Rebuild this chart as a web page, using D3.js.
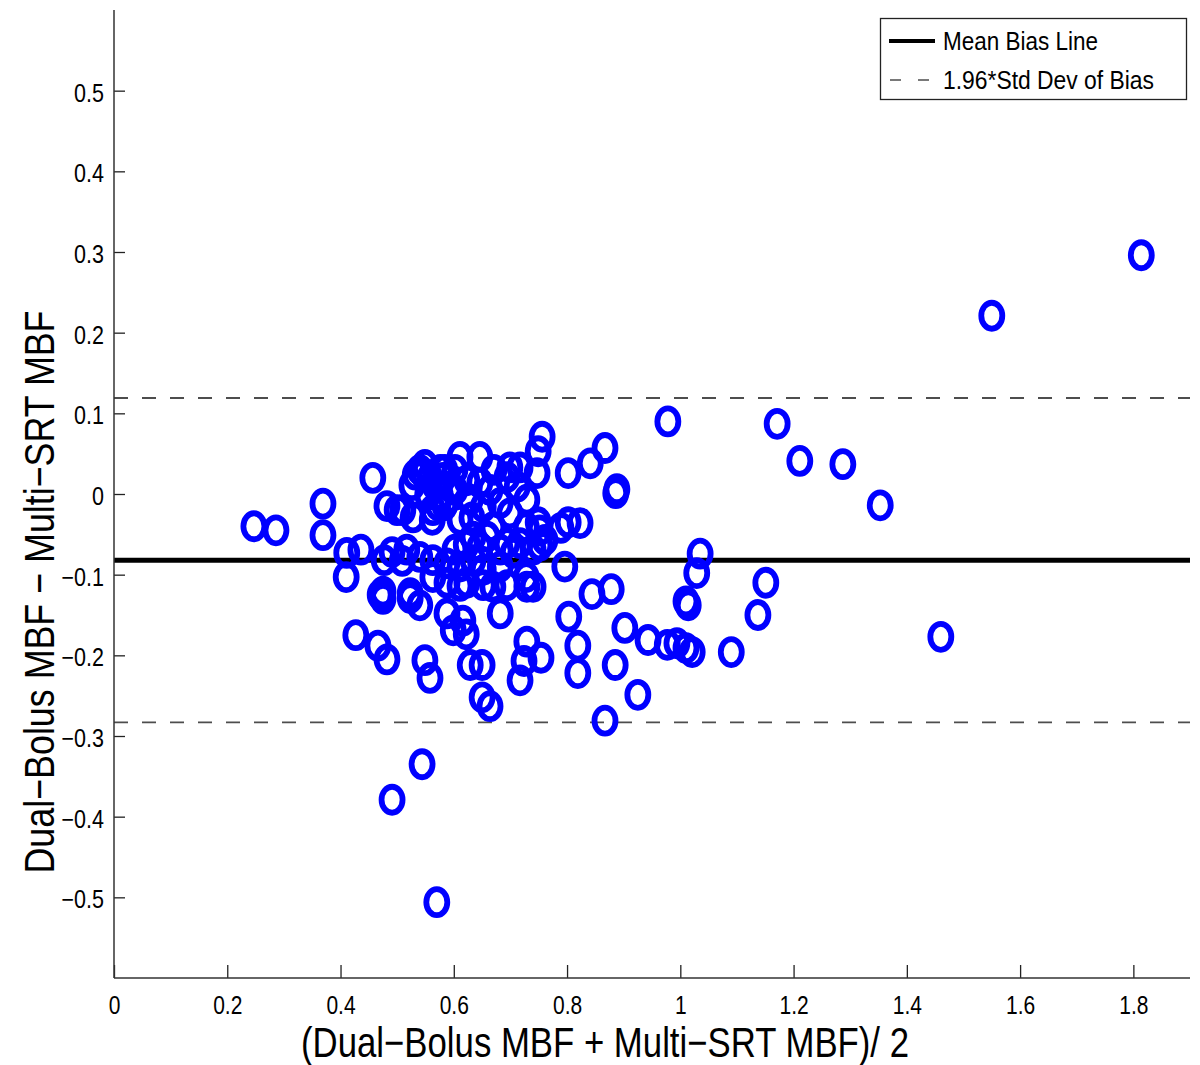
<!DOCTYPE html>
<html><head><meta charset="utf-8">
<script src="https://cdn.jsdelivr.net/npm/d3@7"></script>
<style>
body{margin:0;background:#fff;}
text{font-family:"Liberation Sans",Arial,sans-serif;}
</style></head>
<body><svg id="c" width="1200" height="1065"></svg>
<script>
const meanVals = [1.814,1.550,0.978,1.171,1.211,1.287,1.353,1.460,1.151,1.137,1.090,1.035,1.029,1.010,1.014,1.021,1.010,0.994,0.977,0.943,
0.925,0.902,0.885,0.867,0.878,0.844,0.888,0.886,0.867,0.841,0.802,0.823,0.802,0.789,0.796,0.803,0.819,0.819,0.756,0.749,
0.747,0.754,0.729,0.724,0.717,0.664,0.650,0.629,0.650,0.570,0.544,0.491,0.247,0.286,0.369,0.369,0.457,0.427,0.466,0.482,
0.549,0.558,0.410,0.411,0.436,0.470,0.475,0.523,0.540,0.588,0.599,0.622,0.616,0.682,0.611,0.652,0.694,0.729,0.752,0.752,
0.740,0.728,0.740,0.611,0.646,0.699,0.694,0.540,0.547,0.558,0.581,0.623,0.646,0.712,0.729,0.682,0.652,0.593,0.563,0.510,
0.528,0.669,0.699,0.728,0.717,0.694,0.659,0.634,0.646,0.682,0.705,0.517,0.540,0.563,0.588,0.611,0.634,0.652,0.682,0.669,
0.623,0.588,0.563,0.523,0.482,0.500,0.477,0.491,0.509,0.576,0.584,0.602,0.629,0.664,0.717,0.562,0.475,0.611,0.632,0.671,
0.576,0.622,0.602,0.749,0.761,0.532,0.549,0.567,0.584,0.602,0.526,0.572,0.554];
const diffVals = [0.296,0.221,0.090,0.087,0.041,0.037,-0.014,-0.177,-0.110,-0.150,-0.196,-0.074,-0.098,-0.133,-0.138,-0.196,-0.191,-0.185,-0.187,-0.181,
-0.249,-0.166,-0.212,-0.281,-0.118,-0.124,0.006,0.001,0.057,0.038,0.026,-0.036,-0.035,-0.042,-0.090,-0.152,-0.188,-0.222,0.071,0.053,
0.026,-0.203,-0.183,-0.207,-0.231,-0.263,-0.252,-0.212,-0.212,-0.506,-0.335,-0.379,-0.040,-0.045,-0.012,-0.051,0.020,-0.175,-0.188,-0.205,
-0.206,-0.228,-0.103,-0.073,-0.069,-0.125,-0.130,-0.129,-0.138,-0.148,-0.169,-0.174,-0.157,-0.148,-0.114,-0.113,-0.113,-0.115,-0.064,-0.045,
-0.069,-0.103,-0.115,0.046,0.046,0.033,0.021,0.030,0.025,0.020,0.020,0.017,0.014,0.009,-0.007,-0.011,-0.016,0.009,-0.020,-0.020,
-0.029,-0.041,-0.024,-0.041,-0.061,-0.061,-0.053,-0.053,-0.066,-0.069,-0.073,-0.069,-0.078,-0.082,-0.086,-0.090,-0.082,-0.094,-0.090,-0.115,
-0.110,-0.110,-0.103,-0.123,-0.015,-0.020,-0.082,-0.072,-0.083,-0.001,-0.014,0.030,-0.007,0.005,0.033,-0.032,-0.121,-0.032,-0.029,0.030,
0.030,-0.063,-0.069,-0.035,-0.057,0.024,0.036,0.011,0.030,0.005,0.011,-0.014,-0.001];
const meanBias = -0.082;
const limits = [0.119, -0.283];
const xTicks = [0,0.2,0.4,0.6,0.8,1,1.2,1.4,1.6,1.8];
const yTicks = [-0.5,-0.4,-0.3,-0.2,-0.1,0,0.1,0.2,0.3,0.4,0.5];
const legendItems = ["Mean Bias Line","1.96*Std Dev of Bias"];

const svg = d3.select("#c");
const L=114, R=1190, T=10, B=978;
const x = d3.scaleLinear().domain([0,1.9]).range([L,R]);
const y = d3.scaleLinear().domain([-0.6,0.6]).range([B,T]);

function condense(sel, f){
  sel.each(function(){
    const w = this.getComputedTextLength();
    d3.select(this).attr("textLength", w*f).attr("lengthAdjust","spacingAndGlyphs");
  });
}
function fitTo(sel, w){ sel.attr("textLength", w).attr("lengthAdjust","spacingAndGlyphs"); }

// limit lines
svg.selectAll("line.lim").data(limits).enter().append("line")
  .attr("x1",L).attr("x2",R).attr("y1",d=>y(d)).attr("y2",d=>y(d))
  .attr("stroke","#4d4d4d").attr("stroke-width",1.8).attr("stroke-dasharray","14,14");
svg.append("line").attr("x1",L).attr("x2",R).attr("y1",y(meanBias)).attr("y2",y(meanBias))
  .attr("stroke","#000").attr("stroke-width",5);

// points
svg.append("g").selectAll("ellipse").data(meanVals.map((m,i)=>[m,diffVals[i]])).enter().append("ellipse")
  .attr("cx",d=>x(d[0])).attr("cy",d=>y(d[1])).attr("rx",10.5).attr("ry",13)
  .attr("fill","none").attr("stroke","#0000ff").attr("stroke-width",5.8);

// axes
const fmt = d => d3.format("")(d).replace("-","\u2212");
const xa = svg.append("g").attr("transform",`translate(0,${B})`)
  .call(d3.axisBottom(x).tickValues(xTicks).tickSize(-13).tickPadding(18).tickFormat(fmt));
xa.selectAll(".tick line").attr("stroke","#222").attr("stroke-width",1.3);
xa.selectAll("text").attr("font-family","Liberation Sans").attr("font-size",25).attr("fill","#000");
condense(xa.selectAll("text"), 0.84);

const ya = svg.append("g").attr("transform",`translate(${L},0)`)
  .call(d3.axisLeft(y).tickValues(yTicks).tickSize(-11).tickPadding(10).tickFormat(fmt));
ya.selectAll(".tick line").attr("stroke","#222").attr("stroke-width",1.3);
ya.selectAll("text").attr("font-family","Liberation Sans").attr("font-size",25).attr("fill","#000").attr("dy","0.42em");
condense(ya.selectAll("text"), 0.86);
xa.select(".domain").remove(); ya.select(".domain").remove();
svg.append("line").attr("x1",L).attr("x2",R).attr("y1",B).attr("y2",B).attr("stroke","#333").attr("stroke-width",1.5);
svg.append("line").attr("x1",L).attr("x2",L).attr("y1",T).attr("y2",B).attr("stroke","#333").attr("stroke-width",1.5);

// axis titles
fitTo(svg.append("text").attr("x",605).attr("y",1057).attr("text-anchor","middle")
  .attr("font-size",42).text("(Dual\u2212Bolus MBF + Multi\u2212SRT MBF)/ 2"), 608);
fitTo(svg.append("text").attr("transform","translate(54,592) rotate(-90)").attr("text-anchor","middle")
  .attr("font-size",43).text("Dual\u2212Bolus MBF \u2212 Multi\u2212SRT MBF"), 563);

// legend
const lg = svg.append("g");
lg.append("rect").attr("x",880.5).attr("y",18.5).attr("width",306).attr("height",81)
  .attr("fill","#fff").attr("stroke","#222").attr("stroke-width",1.3);
lg.append("line").attr("x1",889).attr("x2",935).attr("y1",41).attr("y2",41).attr("stroke","#000").attr("stroke-width",4);
lg.append("line").attr("x1",890).attr("x2",932).attr("y1",80).attr("y2",80).attr("stroke","#4d4d4d").attr("stroke-width",1.6).attr("stroke-dasharray","11,17");
const lt = lg.selectAll("text").data(legendItems).enter().append("text")
  .attr("x",943).attr("y",(d,i)=>50+i*39).attr("font-size",25).text(d=>d);
lt.each(function(d,i){ fitTo(d3.select(this), i===0?155:211); });
</script></body></html>
